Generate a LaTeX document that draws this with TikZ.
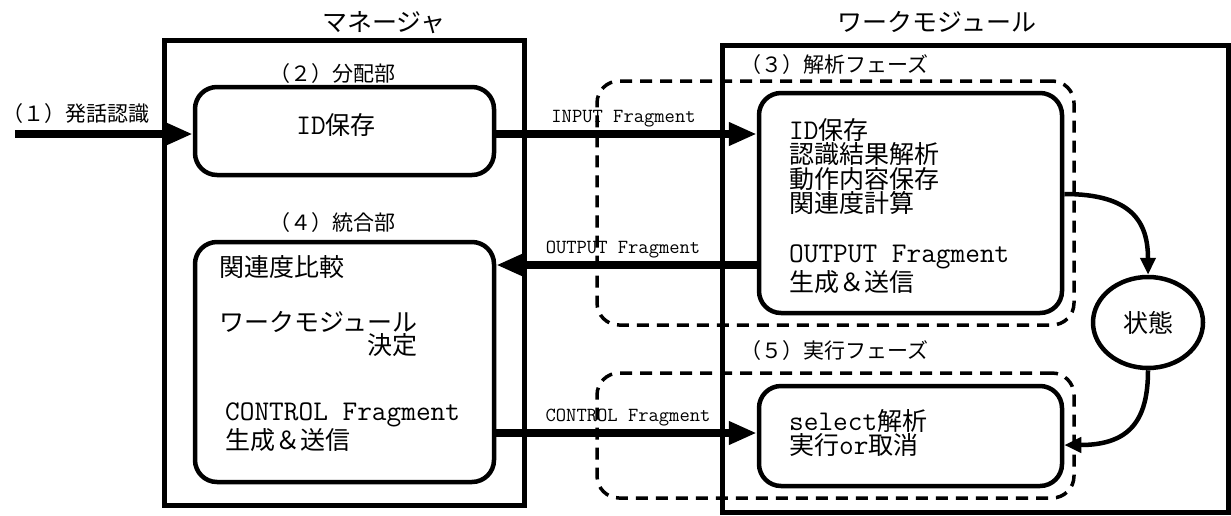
\documentclass[tikz,border=0pt]{standalone}
\usepackage{fontspec}
\newfontfamily\jp{Noto Sans CJK JP}
\usetikzlibrary{arrows.meta,shapes.geometric}
\newcommand\jpf[2]{\fontsize{#1}{#2}\selectfont\jp}
\newcommand\mono[1]{{\fontsize{28.5}{24}\selectfont\ttfamily #1}}
\begin{document}
\begin{tikzpicture}[x=1pt,y=-1pt,
  frame/.style={draw, line width=5pt, inner sep=0pt},
  rbox/.style={draw, line width=4.5pt, rounded corners=22pt, inner sep=0pt},
  dashbox/.style={draw, line width=3.5pt, dash pattern=on 12pt off 8pt, rounded corners=22pt, inner sep=0pt},
  jt/.style={inner sep=0pt, font=\jpf{25}{#1}},
  jt/.default=24,
  lab/.style={inner sep=0pt, font=\jpf{21}{21}},
  frag/.style={inner sep=0pt, font=\fontsize{20}{20}\selectfont\ttfamily},
  bigarrow/.style={line width=8.5pt, -{Triangle[length=28pt,width=22pt]}},
  curarrow/.style={line width=4.5pt, -{Triangle[length=17pt,width=15pt]}}
]
\useasboundingbox (0,0) rectangle (1231,515);

% outer frames
\node[frame, minimum width=360pt, minimum height=465pt] (mgr) at (344.75,272.5) {};
\node[frame, minimum width=506pt, minimum height=467pt] (wm) at (975,278.5) {};

% titles
\node[jt, anchor=base] (tm) at (384,31.5) {マネージャ};
\node[jt, anchor=base] (tw) at (937,31.5) {ワークモジュール};

% section labels
\node[lab, anchor=base east] (l1) at (150,121.4) {（１）発話認識};
\node[lab, anchor=base east] (l2) at (396,81.4) {（２）分配部};
\node[lab, anchor=base east] (l4) at (396,230.4) {（４）統合部};
\node[lab, anchor=base east] (l3) at (929,72.4) {（３）解析フェーズ};
\node[lab, anchor=base east] (l5) at (929,358.4) {（５）実行フェーズ};

% dashed phase boxes
\node[dashbox, minimum width=477pt, minimum height=244pt] (ph3) at (835.5,203) {};
\node[dashbox, minimum width=477pt, minimum height=125pt] (ph5) at (835.5,435.5) {};

% rounded process boxes
\node[rbox, minimum width=299pt, minimum height=88pt] (id) at (344.5,131) {};
\node[rbox, minimum width=299pt, minimum height=240pt] (int) at (344.5,362) {};
\node[rbox, minimum width=303pt, minimum height=220pt] (ana) at (910.5,203) {};
\node[rbox, minimum width=303pt, minimum height=100pt] (exe) at (910.5,436) {};
\node[draw, ellipse, line width=4.5pt, minimum width=110pt, minimum height=91pt, inner sep=0pt, font=\jpf{25}{25}] (state) at (1148,322.5) {状態};

% box texts (base anchor = baseline of the last line)
\node[jt, anchor=base] (idt) at (336,134) {\mono{ID}保存};
\node[jt, anchor=base west] (c1) at (219,276.5) {関連度比較};
\node[jt=23, anchor=base west, align=right] (c2) at (219,354.5) {ワークモジュール\\決定};
\node[jt=23, anchor=base west, align=left] (c3) at (225,449.5) {\mono{CONTROL Fragment}\\生成＆送信};
\node[jt=24.3, anchor=base west, align=left] (a1) at (789,212.4) {\mono{ID}保存\\認識結果解析\\動作内容保存\\関連度計算};
\node[jt=25, anchor=base west, align=left] (a2) at (789,291) {\mono{OUTPUT Fragment}\\生成＆送信};
\node[jt=23, anchor=base west, align=left] (e1) at (789,454.5) {\mono{select}解析\\実行\mono{or}取消};

% fragment labels
\node[frag, anchor=base] (fI) at (623.5,122) {INPUT Fragment};
\node[frag, anchor=base] (fO) at (623,253) {OUTPUT Fragment};
\node[frag, anchor=base] (fC) at (628,421) {CONTROL Fragment};

% thick arrows
\coordinate (inS) at (15,134);
\coordinate (yI) at (0,134);
\coordinate (yO) at (0,265);
\coordinate (yC) at (0,433);
\draw[bigarrow] (inS) -- (inS -| id.west);
\draw[bigarrow] (id.east |- yI) -- (ana.west |- yI);
\draw[bigarrow] (ana.west |- yO) -- (int.east |- yO);
\draw[bigarrow] (int.east |- yC) -- (exe.west |- yC);

% state arrows
\coordinate (yS1) at (0,194);
\coordinate (yS2) at (0,445);
\draw[curarrow] (ana.east |- yS1) .. controls (1132,194) and (1148,222) .. (state.north);
\draw[curarrow] (state.south) .. controls (1148,420) and (1130,445) .. (exe.east |- yS2);
\end{tikzpicture}
\end{document}
